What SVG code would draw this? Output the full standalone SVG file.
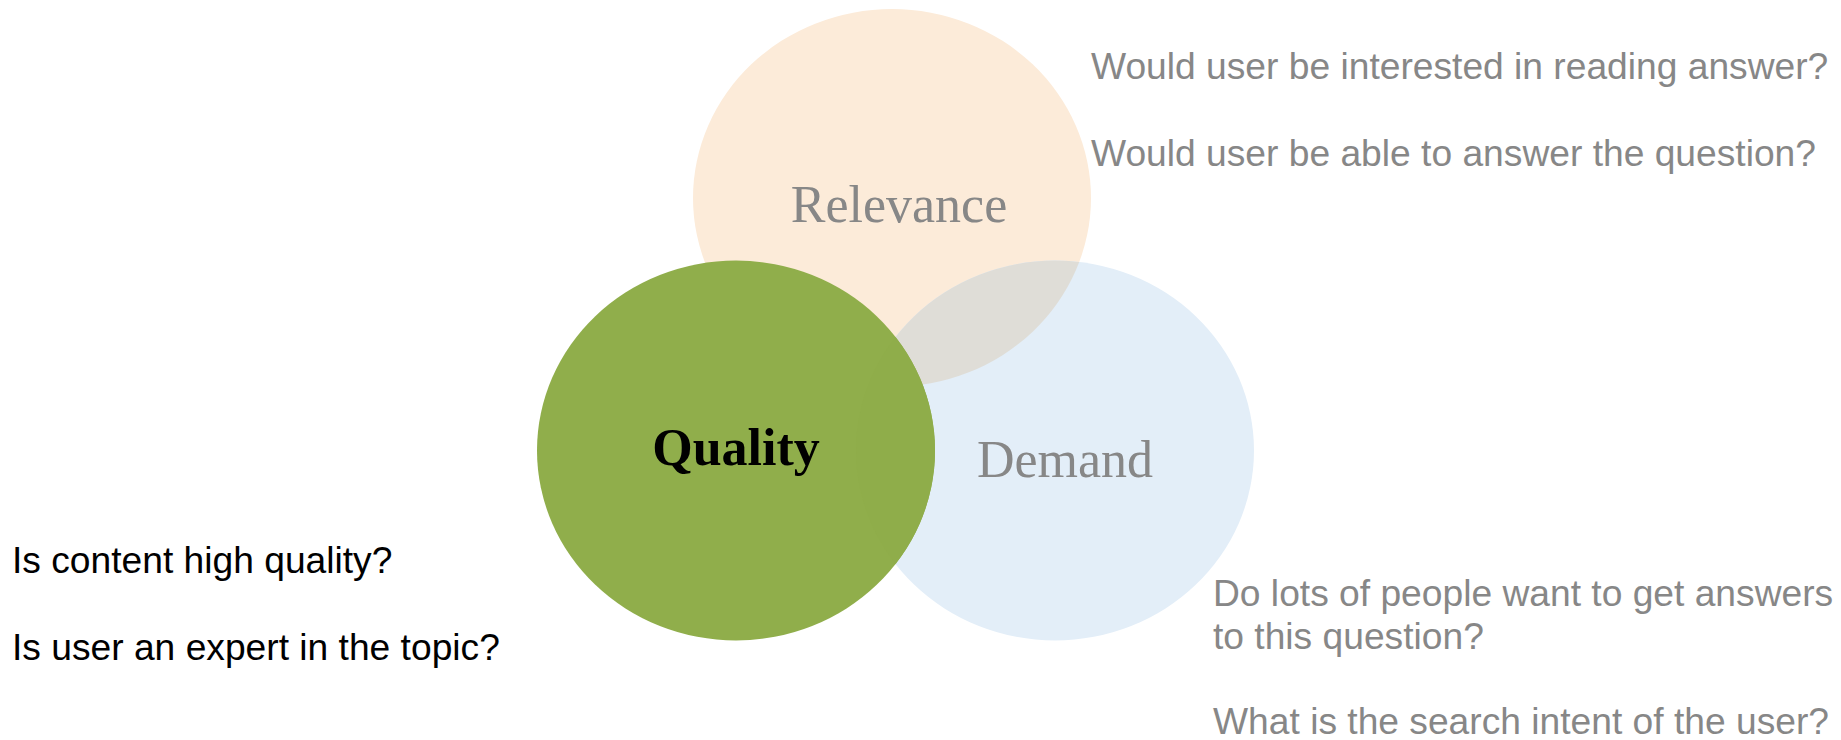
<svg xmlns="http://www.w3.org/2000/svg" width="1841" height="740" viewBox="0 0 1841 740">
<style>
.lbl{font-family:"Liberation Serif","Times New Roman",serif;font-size:52px;text-anchor:middle}
.gray{fill:#878787}
.q{font-family:"Liberation Sans",Arial,sans-serif;font-size:37.2px}
</style>
<defs>
<ellipse id="eR" cx="892" cy="198" rx="199" ry="189"/>
<ellipse id="eQ" cx="736" cy="450.5" rx="199" ry="190"/>
<ellipse id="eD" cx="1055" cy="450.5" rx="199" ry="190"/>
<clipPath id="clipR"><use href="#eR"/></clipPath>
<clipPath id="clipQ"><use href="#eQ"/></clipPath>
</defs>
<rect width="1841" height="740" fill="#ffffff"/>
<g id="relevance">
<use href="#eR" fill="#FCEBD9"/>
</g>
<g id="demand">
<use href="#eD" fill="#E3EEF8"/>
<use href="#eD" fill="#DFDDD7" clip-path="url(#clipR)"/>
</g>
<g id="quality">
<use href="#eQ" fill="#90AE4B"/>
<use href="#eD" fill="#8FAD4A" clip-path="url(#clipQ)"/>
<text class="lbl" x="736" y="465" font-weight="bold" fill="#000000">Quality</text>
</g>
<g id="labels">
<text class="lbl gray" x="899" y="222">Relevance</text>
<text class="lbl gray" x="1065" y="477">Demand</text>
</g>
<g id="relevance-notes" class="q gray">
<text x="1091" y="79">Would user be interested in reading answer?</text>
<text x="1091" y="166">Would user be able to answer the question?</text>
</g>
<g id="demand-notes" class="q gray">
<text x="1213" y="606">Do lots of people want to get answers</text>
<text x="1213" y="649">to this question?</text>
<text x="1213" y="734">What is the search intent of the user?</text>
</g>
<g id="quality-notes" class="q" fill="#000000">
<text x="12" y="573">Is content high quality?</text>
<text x="12" y="660">Is user an expert in the topic?</text>
</g>
</svg>
